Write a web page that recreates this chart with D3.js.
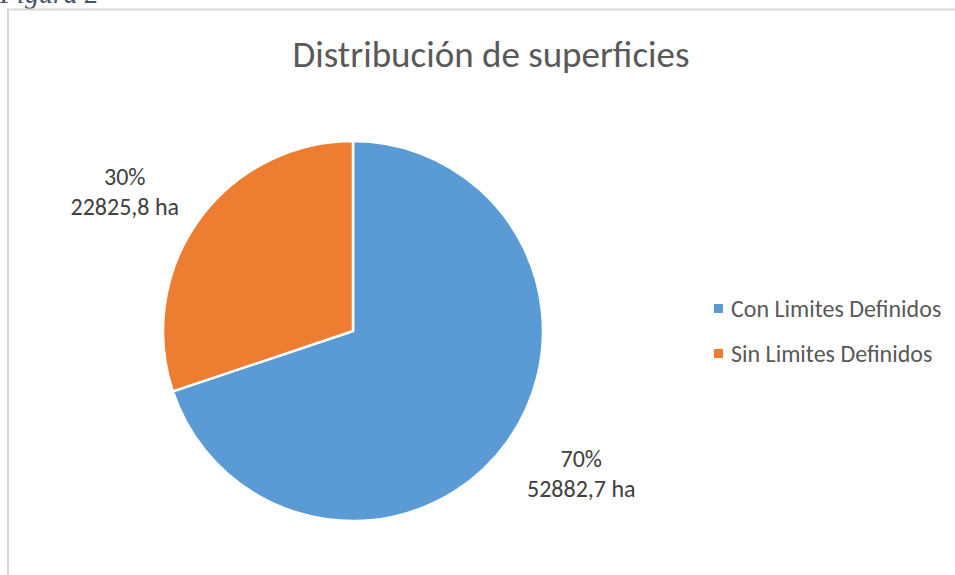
<!DOCTYPE html>
<html>
<head>
<meta charset="UTF-8">
<title>Distribución de superficies</title>
<script src="https://cdn.jsdelivr.net/npm/d3@7"></script>
<style>
  body{margin:0;background:#fff;}
  svg{display:block;}
</style>
</head>
<body>
<script>
var categorias=["Con Limites Definidos","Sin Limites Definidos"];
var superficies=[52882.7,22825.8];
var colores=["#5B9BD5","#ED7D31"];

var W=955,H=575;
var font='Calibri,Carlito,Lato,sans-serif';
var svg=d3.select('body').append('svg')
    .attr('width',W).attr('height',H);

// caption, cut at top like the source
svg.append('text')
    .attr('x',0).attr('y',3)
    .attr('font-family','"Liberation Serif","Times New Roman",serif')
    .attr('font-style','italic')
    .attr('font-size',28)
    .attr('fill','#44546A')
    .text('Figura 2');

// chart border
svg.append('path')
    .attr('d','M8,'+(H+2)+'V9.5H'+(W+2))
    .attr('fill','none')
    .attr('stroke','#D9D9D9')
    .attr('stroke-width',2);

svg.append('text')
    .attr('x',491).attr('y',67)
    .attr('text-anchor','middle')
    .attr('font-family',font)
    .attr('font-size',37)
    .attr('fill','#595959')
    .text('Distribución de superficies');

var cx=353,cy=331,r=190;
var total=d3.sum(superficies);
var pie=d3.pie().sort(null);
var arcs=pie(superficies);
var arc=d3.arc().innerRadius(0).outerRadius(r);

var g=svg.append('g').attr('transform','translate('+cx+','+cy+')');
g.selectAll('path').data(arcs).enter().append('path')
    .attr('d',arc)
    .attr('fill',function(d,i){return colores[i];})
    .attr('stroke','#fff')
    .attr('stroke-width',2.5)
    .attr('stroke-linejoin','round');

var fmt=function(v){return d3.format('.1f')(v).replace('.',',');};
// labels outside, on an ellipse around the pie
var rx=r*1.48,ry=r*1.27;
var lbl=g.selectAll('.lbl').data(arcs).enter().append('text')
    .attr('class','lbl')
    .attr('text-anchor','middle')
    .attr('font-family',font)
    .attr('font-size',24)
    .attr('fill','#404040')
    .attr('transform',function(d){
        var a=(d.startAngle+d.endAngle)/2;
        return 'translate('+(Math.sin(a)*rx)+','+(-Math.cos(a)*ry-5)+')';
    });
lbl.append('tspan').attr('x',0).attr('y',0)
    .text(function(d){return Math.round(d.value/total*100)+'%';});
lbl.append('tspan').attr('x',0).attr('y',30)
    .text(function(d){return fmt(d.value)+' ha';});

var leg=svg.append('g').selectAll('g').data(categorias).enter().append('g')
    .attr('transform',function(d,i){return 'translate(714,'+(304+i*45)+')';});
leg.append('rect').attr('width',9).attr('height',9)
    .attr('fill',function(d,i){return colores[i];});
leg.append('text').attr('x',17).attr('y',13)
    .attr('font-family',font)
    .attr('font-size',24)
    .attr('fill','#595959')
    .text(function(d){return d;});
</script>
</body>
</html>
